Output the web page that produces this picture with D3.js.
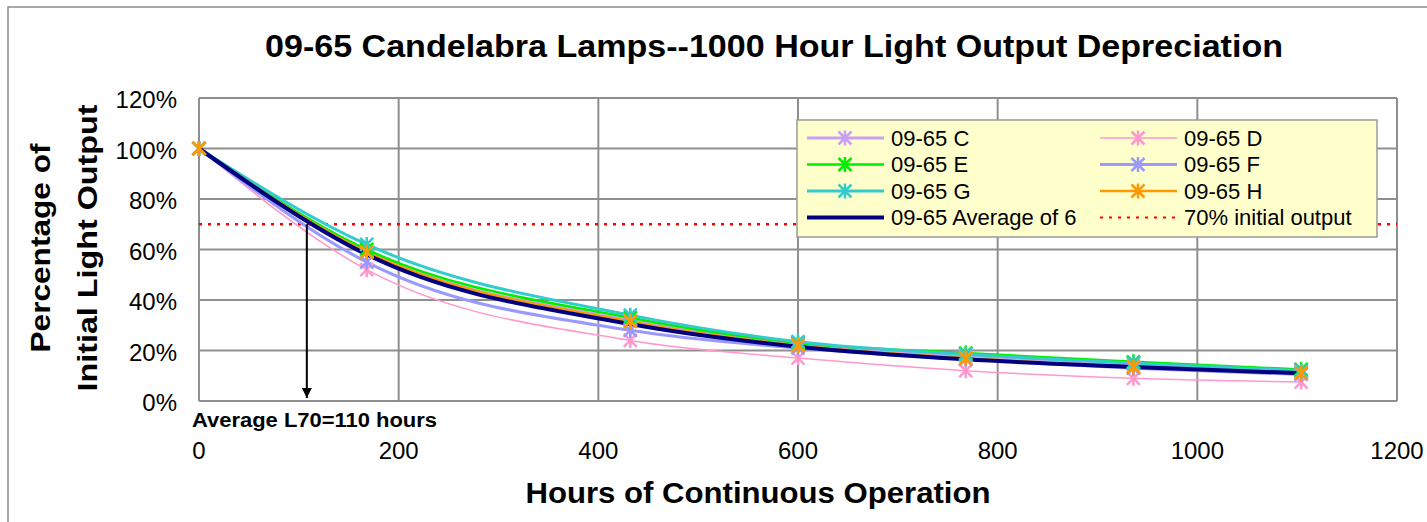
<!DOCTYPE html>
<html lang="en">
<head>
<meta charset="utf-8">
<title>09-65 Candelabra Lamps--1000 Hour Light Output Depreciation</title>
<script src="https://d3js.org/d3.v7.min.js"></script>
<style>
body { margin: 0; background: #fff; font-family: "Liberation Sans", Arial, sans-serif; }
.grid line { stroke: #8f8f8f; stroke-width: 2px; }
</style>
</head>
<body>
<script>
var w = 1427, h = 522;

// data
var hours = [0, 168, 432, 600, 768, 936, 1104];
var seriesNames = ["09-65 C", "09-65 D", "09-65 E", "09-65 F", "09-65 G", "09-65 H"];
var valC = [100, 59, 32, 22.5, 18, 14.5, 11.5];
var valD = [100, 52, 24, 17, 12, 9, 7.5];
var valE = [100, 60, 33, 23, 19, 15.5, 12.5];
var valF = [100, 55, 28, 21, 16.5, 13, 10.5];
var valG = [100, 62, 34, 23.5, 18.5, 15, 12];
var valH = [100, 59, 31.5, 22, 17, 13.5, 11];
var valAvg = [100, 58, 30.5, 21.5, 16.5, 13.5, 11];
var avgName = "09-65 Average of 6";
var refName = "70% initial output";
var refLevel = 70;
var l70Hours = 108;
var xTicks = [0, 200, 400, 600, 800, 1000, 1200];
var yTicks = [0, 20, 40, 60, 80, 100, 120];

var colors = ["#c9a0f5", "#ff99cc", "#00ee00", "#9999ff", "#33cccc", "#ff9900"];
var widths = [3, 1.5, 2.5, 3, 3, 2.5];
var allVals = [valC, valD, valE, valF, valG, valH];

var x = d3.scaleLinear().domain([0, 1200]).range([199, 1397]);
var y = d3.scaleLinear().domain([0, 120]).range([401, 98]);

var svg = d3.select("body").append("svg").attr("width", w).attr("height", h);

// outer chart border
svg.append("rect").attr("x", 8).attr("y", 7).attr("width", 1440).attr("height", 540)
  .attr("fill", "none").attr("stroke", "#8c8c8c").attr("stroke-width", 1.5);

// gridlines
var grid = svg.append("g").attr("class", "grid");
grid.selectAll(".gy").data(yTicks).enter().append("line")
  .attr("x1", x(0)).attr("x2", x(1200))
  .attr("y1", function(d) { return y(d); }).attr("y2", function(d) { return y(d); });
grid.selectAll(".gx").data(xTicks).enter().append("line")
  .attr("y1", y(0)).attr("y2", y(120))
  .attr("x1", function(d) { return x(d); }).attr("x2", function(d) { return x(d); });

// tick labels
svg.selectAll(".ytl").data(yTicks).enter().append("text")
  .attr("x", 177).attr("y", function(d) { return y(d) + 10; })
  .attr("text-anchor", "end").style("font-size", "24px")
  .text(function(d) { return d + "%"; });
svg.selectAll(".xtl").data(xTicks).enter().append("text")
  .attr("x", function(d) { return x(d); }).attr("y", 459)
  .attr("text-anchor", "middle").style("font-size", "24px")
  .text(function(d) { return d; });

// titles
svg.append("text").attr("x", 774).attr("y", 57).attr("text-anchor", "middle")
  .attr("textLength", 1018).attr("lengthAdjust", "spacingAndGlyphs")
  .style("font-size", "32px").style("font-weight", "bold")
  .text("09-65 Candelabra Lamps--1000 Hour Light Output Depreciation");
svg.append("text").attr("x", 758).attr("y", 503).attr("text-anchor", "middle")
  .attr("textLength", 465).attr("lengthAdjust", "spacingAndGlyphs")
  .style("font-size", "29px").style("font-weight", "bold")
  .text("Hours of Continuous Operation");
svg.append("text").attr("transform", "translate(50,248) rotate(-90)").attr("text-anchor", "middle")
  .attr("textLength", 209).attr("lengthAdjust", "spacingAndGlyphs")
  .style("font-size", "27px").style("font-weight", "bold").text("Percentage of");
svg.append("text").attr("transform", "translate(97,248) rotate(-90)").attr("text-anchor", "middle")
  .attr("textLength", 287).attr("lengthAdjust", "spacingAndGlyphs")
  .style("font-size", "27px").style("font-weight", "bold").text("Initial Light Output");

// 70% reference line
svg.append("line").attr("x1", x(0)).attr("x2", x(1200))
  .attr("y1", y(refLevel)).attr("y2", y(refLevel))
  .attr("stroke", "#ff0000").attr("stroke-width", 2.5).attr("stroke-dasharray", "3,6");

var line = d3.line()
  .x(function(d, i) { return x(hours[i]); })
  .y(function(d) { return y(d); })
  .curve(d3.curveMonotoneX);

function star(g, cx, cy, color) {
  var r = 6.5;
  var p = "M" + (cx - r) + "," + (cy - r) + "L" + (cx + r) + "," + (cy + r) +
          "M" + (cx - r) + "," + (cy + r) + "L" + (cx + r) + "," + (cy - r) +
          "M" + cx + "," + (cy - r - 1) + "L" + cx + "," + (cy + r + 1);
  g.append("path").attr("d", p).attr("stroke", color).attr("stroke-width", 2.5).attr("fill", "none");
}

// series lines
allVals.forEach(function(vals, k) {
  svg.append("path").datum(vals).attr("d", line).attr("fill", "none")
    .attr("stroke", colors[k]).attr("stroke-width", widths[k]);
});
svg.append("path").datum(valAvg).attr("d", line).attr("fill", "none")
  .attr("stroke", "#000080").attr("stroke-width", 4);

// markers
var mk = svg.append("g");
allVals.forEach(function(vals, k) {
  vals.forEach(function(v, i) { star(mk, x(hours[i]), y(v), colors[k]); });
});

// L70 arrow
svg.append("defs").append("marker").attr("id", "arr")
  .attr("viewBox", "0 0 10 10").attr("refX", 10).attr("refY", 5)
  .attr("markerWidth", 5).attr("markerHeight", 5).attr("orient", "auto")
  .append("path").attr("d", "M0,0L10,5L0,10Z").attr("fill", "#000");
svg.append("line").attr("x1", x(l70Hours)).attr("x2", x(l70Hours))
  .attr("y1", y(refLevel)).attr("y2", y(0) - 3)
  .attr("stroke", "#000").attr("stroke-width", 2).attr("marker-end", "url(#arr)");
svg.append("text").attr("x", 192).attr("y", 427)
  .attr("textLength", 245).attr("lengthAdjust", "spacingAndGlyphs")
  .style("font-size", "20px").style("font-weight", "bold")
  .text("Average L70=" + 110 + " hours");

// legend
var lg = svg.append("g");
lg.append("rect").attr("x", 797).attr("y", 120).attr("width", 580).attr("height", 117)
  .attr("fill", "#ffffcc").attr("stroke", "#9a9a9a").attr("stroke-width", 1.5);
var rowY = [138, 164.5, 191, 217.5];
var colX = [807, 1100];
var items = seriesNames.map(function(n, k) { return { name: n, color: colors[k], width: widths[k], star: true }; });
items.push({ name: avgName, color: "#000080", width: 4, star: false });
items.push({ name: refName, color: "#ff0000", width: 2, star: false, dash: "3,6" });
items.forEach(function(it, k) {
  var cx = colX[k % 2], cy = rowY[Math.floor(k / 2)];
  lg.append("line").attr("x1", cx).attr("x2", cx + 77).attr("y1", cy).attr("y2", cy)
    .attr("stroke", it.color).attr("stroke-width", it.width)
    .attr("stroke-dasharray", it.dash || null);
  if (it.star) star(lg, cx + 38, cy, it.color);
  lg.append("text").attr("x", cx + 84).attr("y", cy + 7.5).style("font-size", "22px").text(it.name);
});
</script>
</body>
</html>
